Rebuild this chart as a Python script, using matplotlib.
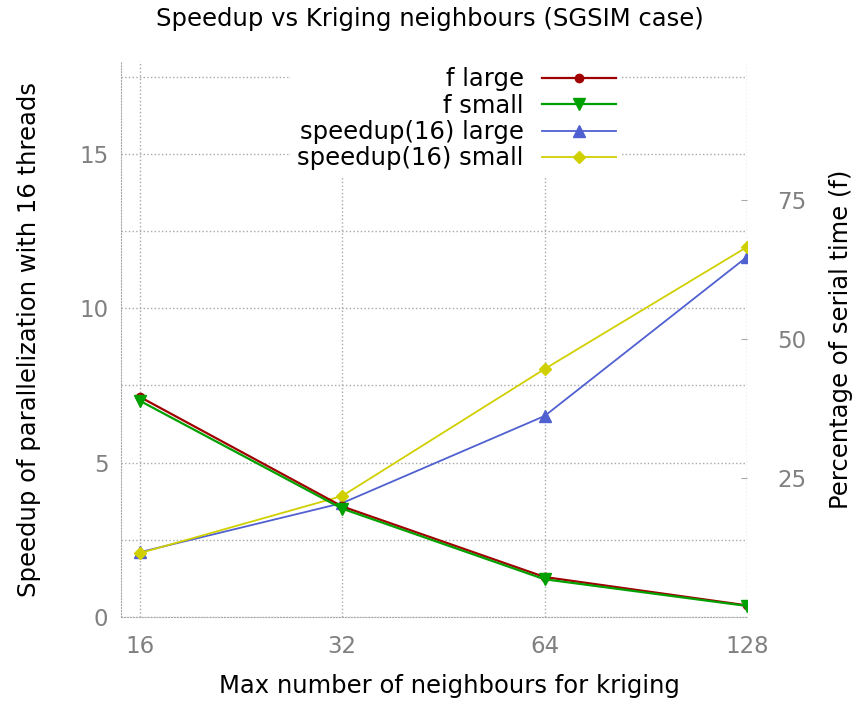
import numpy as np
import matplotlib
matplotlib.use("Agg")
import matplotlib.pyplot as plt
from matplotlib.ticker import FixedLocator, NullFormatter, NullLocator

# data
neighbours = [16, 32, 64, 128]
f_large = [39.6, 19.9, 7.2, 2.1]
f_small = [38.9, 19.5, 6.8, 2.0]
speedup_large = [2.10, 3.69, 6.51, 11.66]
speedup_small = [2.07, 3.92, 8.03, 11.98]

red = '#a00000'
green = '#00a000'
blue = '#5060d0'
yellow = '#d0d000'
grey = '#808080'
gridc = '#a8a8a8'

plt.rcParams['font.family'] = 'DejaVu Sans'
fs = 17.5

fig = plt.figure(figsize=(8.58, 7.02), dpi=100)
ax = fig.add_axes([0.141, 0.121, 0.7296, 0.792])
ax2 = ax.twinx()

# speedup on left axis
l3, = ax.plot(neighbours, speedup_large, color=blue, lw=1.3, marker='^', ms=9,
              label='speedup(16) large')
l4, = ax.plot(neighbours, speedup_small, color=yellow, lw=1.3, marker='D', ms=6,
              label='speedup(16) small')

# f on right axis
l1, = ax2.plot(neighbours, f_large, color=red, lw=1.6, marker='o', ms=6,
               label='f large')
l2, = ax2.plot(neighbours, f_small, color=green, lw=1.6, marker='v', ms=9,
               label='f small')

ax.set_xscale('log', base=2)
ax.set_xlim(15, 128)
ax.xaxis.set_major_locator(FixedLocator(neighbours))
ax.xaxis.set_minor_locator(NullLocator())
ax.set_xticklabels([str(n) for n in neighbours])
ax.set_ylim(0, 18)
ax.yaxis.set_major_locator(FixedLocator([0, 5, 10, 15]))
ax.yaxis.set_minor_locator(FixedLocator([2.5, 7.5, 12.5, 17.5]))
ax.yaxis.set_minor_formatter(NullFormatter())
ax2.set_ylim(0, 100)
ax2.yaxis.set_major_locator(FixedLocator([25, 50, 75]))

ax.grid(True, which='both', axis='y', color=gridc, ls=':', lw=1)
ax.grid(True, which='major', axis='x', color=gridc, ls=':', lw=1)

for a in (ax, ax2):
    for side in ('top', 'right', 'left', 'bottom'):
        a.spines[side].set_visible(False)
for side in ('left', 'bottom'):
    ax.spines[side].set_visible(True)
    ax.spines[side].set_color(gridc)
    ax.spines[side].set_linestyle(':')

ax.tick_params(axis='both', which='both', length=0, labelsize=16.5, labelcolor=grey)
ax.tick_params(axis='y', pad=9)
ax.tick_params(axis='x', pad=13)
ax2.tick_params(axis='y', length=4, direction='in', color=gridc, labelsize=16.5,
                labelcolor=grey, pad=22)

ax.set_xlabel('Max number of neighbours for kriging', fontsize=fs)
ax.xaxis.set_label_coords(0.525, -0.102)
ax.set_ylabel('Speedup of parallelization with 16 threads', fontsize=fs)
ax.yaxis.set_label_coords(-0.128, 0.5)
ax2.set_ylabel('Percentage of serial time (f)', fontsize=fs)
ax2.yaxis.set_label_coords(1.131, 0.5)
fig.text(0.501, 1 - 19 / 702, 'Speedup vs Kriging neighbours (SGSIM case)',
         fontsize=fs, ha='center', va='center')

leg = ax2.legend(handles=[l1, l2, l3, l4], loc='upper right',
                 bbox_to_anchor=(0.80, 1.0), borderaxespad=0,
                 markerfirst=False, frameon=True, fancybox=False,
                 fontsize=fs, handlelength=3.05, labelspacing=0.1,
                 borderpad=0.25, handletextpad=0.74)
leg.get_frame().set_edgecolor('none')
leg.get_frame().set_facecolor('white')
leg.get_frame().set_alpha(1)

# right-align the legend rows like gnuplot does
for col in leg._legend_handle_box.get_children():
    col.align = 'right'

fig.savefig('out.png', dpi=100)
